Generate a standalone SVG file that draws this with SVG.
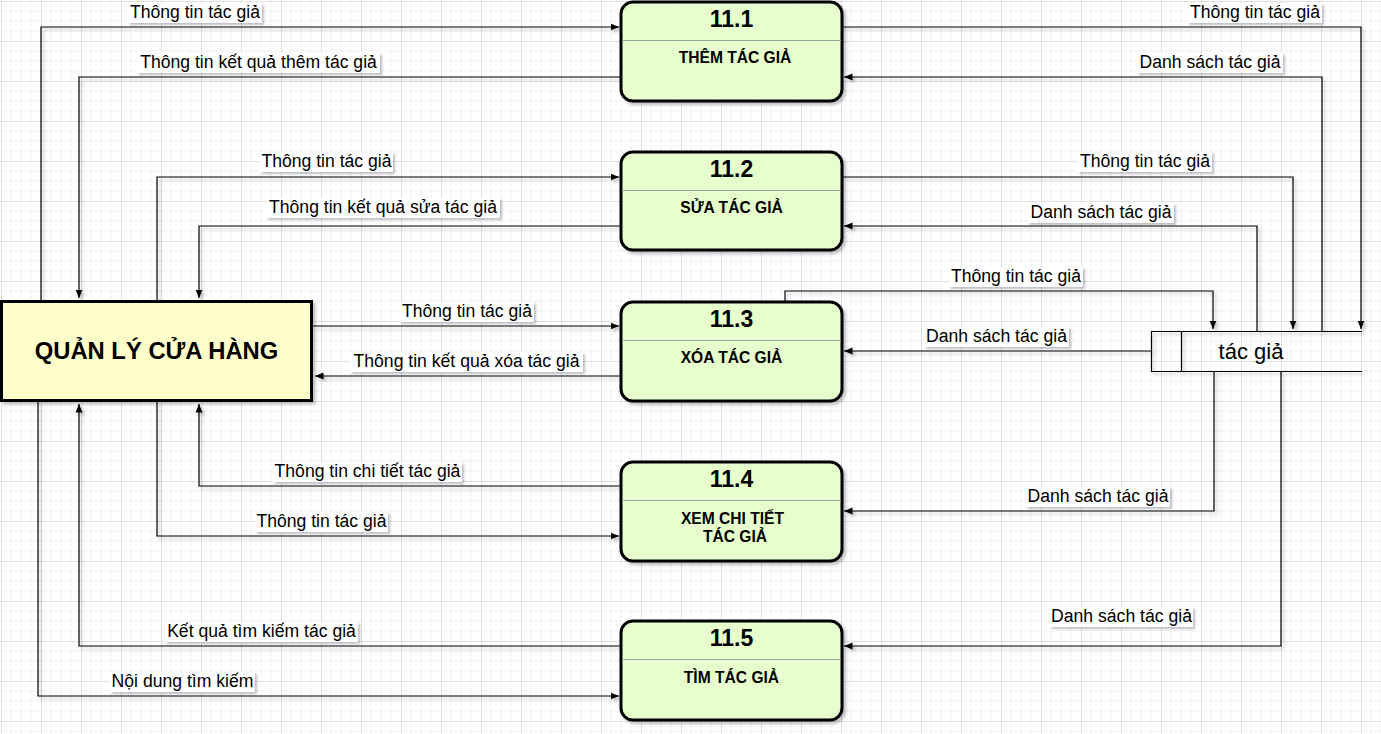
<svg xmlns="http://www.w3.org/2000/svg" width="1381" height="734" viewBox="0 0 1381 734">
<defs>
  <pattern id="grid" x="1" y="1" width="40" height="40" patternUnits="userSpaceOnUse">
    <path d="M10,0V40M20,0V40M30,0V40M0,10H40M0,20H40M0,30H40" stroke="#f1f1f1" stroke-width="1" fill="none"/>
    <path d="M0.5,0V40M0,0.5H40" stroke="#e0e0e0" stroke-width="1" fill="none"/>
  </pattern>
  <filter id="sh" x="-10%" y="-10%" width="130%" height="140%">
    <feDropShadow dx="2.5" dy="2.5" stdDeviation="1.5" flood-color="#000" flood-opacity="0.25"/>
  </filter>
  <filter id="shl" x="-10%" y="-30%" width="130%" height="180%">
    <feDropShadow dx="2" dy="2" stdDeviation="1.2" flood-color="#334" flood-opacity="0.3"/>
  </filter>
  <marker id="arr" markerUnits="userSpaceOnUse" markerWidth="9" markerHeight="8" refX="8.5" refY="4" orient="auto">
    <path d="M0,0.5 L8.5,4 L0,7.5 z" fill="#000"/>
  </marker>
  <style>
    .proc rect.box { fill:#e6ffcc; stroke:#000; stroke-width:3; }
    .proc line.div { stroke:#a0a0a0; stroke-width:1; }
    .num { font-family:"Liberation Sans", Arial, sans-serif; font-weight:bold; font-size:23px; text-anchor:middle; fill:#000; }
    .pname { font-family:"Liberation Sans", Arial, sans-serif; font-weight:bold; font-size:15.6px; text-anchor:middle; fill:#000; }
    .conn path { fill:none; stroke:#000; stroke-width:1.2; marker-end:url(#arr); }
    .lbl rect { fill:#fff; }
    .lbl text { font-family:"Liberation Sans", Arial, sans-serif; font-size:17.6px; text-anchor:middle; fill:#000; }
  </style>
</defs>
<rect width="1381" height="734" fill="#fff"/>
<rect width="1381" height="734" fill="url(#grid)"/>

<g id="connectors" class="conn">
  <g filter="url(#sh)">
    <path d="M41,300 V27 H619"/>
    <path d="M621,77 H79 V298"/>
    <path d="M842,27 H1361 V329"/>
    <path d="M1322,331 V77 H844"/>
    <path d="M157,300 V177 H619"/>
    <path d="M621,226 H199 V298"/>
    <path d="M842,177 H1293 V329"/>
    <path d="M1257,331 V226 H844"/>
    <path d="M313,326 H619"/>
    <path d="M621,376 H315"/>
    <path d="M785,302 V291 H1213 V329"/>
    <path d="M1151,351 H844"/>
    <path d="M621,486 H199 V404"/>
    <path d="M157,402 V536 H619"/>
    <path d="M1214,371 V511 H844"/>
    <path d="M621,646 H79 V404"/>
    <path d="M38,402 V696 H619"/>
    <path d="M1281,371 V646 H844"/>
  </g>
  <g class="lbl">
    <g filter="url(#shl)">
      <rect x="128" y="3" width="134" height="20"/>
      <rect x="137" y="53" width="243" height="20"/>
      <rect x="1188" y="3" width="134" height="20"/>
      <rect x="1137" y="53" width="146" height="20"/>
      <rect x="260" y="152" width="133" height="20"/>
      <rect x="266" y="198" width="234" height="20"/>
      <rect x="1078" y="152" width="134" height="20"/>
      <rect x="1028" y="203" width="146" height="20"/>
      <rect x="400" y="302" width="134" height="20"/>
      <rect x="350" y="352" width="233" height="20"/>
      <rect x="949" y="267" width="134" height="20"/>
      <rect x="924" y="327" width="145" height="20"/>
      <rect x="273" y="462" width="189" height="20"/>
      <rect x="255" y="512" width="133" height="20"/>
      <rect x="1026" y="487" width="144" height="20"/>
      <rect x="165" y="622" width="193" height="20"/>
      <rect x="110" y="672" width="145" height="20"/>
      <rect x="1050" y="607" width="143" height="20"/>
    </g>
    <text x="195" y="18">Thông tin tác giả</text>
    <text x="258.5" y="68">Thông tin kết quả thêm tác giả</text>
    <text x="1255" y="18">Thông tin tác giả</text>
    <text x="1210" y="68">Danh sách tác giả</text>
    <text x="326.5" y="167">Thông tin tác giả</text>
    <text x="383" y="213">Thông tin kết quả sửa tác giả</text>
    <text x="1145" y="167">Thông tin tác giả</text>
    <text x="1101" y="218">Danh sách tác giả</text>
    <text x="467" y="317">Thông tin tác giả</text>
    <text x="466.5" y="367">Thông tin kết quả xóa tác giả</text>
    <text x="1016" y="282">Thông tin tác giả</text>
    <text x="996.5" y="342">Danh sách tác giả</text>
    <text x="367.5" y="477">Thông tin chi tiết tác giả</text>
    <text x="321.5" y="527">Thông tin tác giả</text>
    <text x="1098" y="502">Danh sách tác giả</text>
    <text x="261.5" y="637">Kết quả tìm kiếm tác giả</text>
    <text x="182.5" y="687">Nội dung tìm kiếm</text>
    <text x="1121.5" y="622">Danh sách tác giả</text>
  </g>
</g>

<g id="qlch">
  <rect x="1.5" y="301.5" width="310" height="99" fill="#ffffcc" stroke="#000" stroke-width="3" filter="url(#sh)"/>
  <text x="156.5" y="359" font-family="Liberation Sans, Arial, sans-serif" font-weight="bold" font-size="23.8" text-anchor="middle">QUẢN LÝ CỬA HÀNG</text>
</g>

<g id="p11_1" class="proc">
  <rect class="box" x="621" y="2" width="221" height="99" rx="12" filter="url(#sh)"/>
  <line class="div" x1="622" y1="40.5" x2="841" y2="40.5"/>
  <text class="num" x="731.5" y="27">11.1</text>
  <text class="pname" x="735" y="63">THÊM TÁC GIẢ</text>
</g>
<g id="p11_2" class="proc">
  <rect class="box" x="621" y="152" width="221" height="98" rx="12" filter="url(#sh)"/>
  <line class="div" x1="622" y1="190.5" x2="841" y2="190.5"/>
  <text class="num" x="731.5" y="177">11.2</text>
  <text class="pname" x="731.5" y="213">SỬA TÁC GIẢ</text>
</g>
<g id="p11_3" class="proc">
  <rect class="box" x="621" y="302" width="221" height="99" rx="12" filter="url(#sh)"/>
  <line class="div" x1="622" y1="340.5" x2="841" y2="340.5"/>
  <text class="num" x="731.5" y="327">11.3</text>
  <text class="pname" x="731.5" y="363">XÓA TÁC GIẢ</text>
</g>
<g id="p11_4" class="proc">
  <rect class="box" x="621" y="462" width="221" height="99" rx="12" filter="url(#sh)"/>
  <line class="div" x1="622" y1="500.5" x2="841" y2="500.5"/>
  <text class="num" x="731.5" y="487">11.4</text>
  <text class="pname" x="732.5" y="524">XEM CHI TIẾT</text>
  <text class="pname" x="735" y="542">TÁC GIẢ</text>
</g>
<g id="p11_5" class="proc">
  <rect class="box" x="621" y="621" width="221" height="99" rx="12" filter="url(#sh)"/>
  <line class="div" x1="622" y1="659.5" x2="841" y2="659.5"/>
  <text class="num" x="731.5" y="646">11.5</text>
  <text class="pname" x="731.5" y="683">TÌM TÁC GIẢ</text>
</g>

<g id="store">
  <g fill="none" stroke="#000" stroke-width="1.2" filter="url(#sh)">
    <path d="M1362,331.5 H1151.5 V371.5 H1362"/>
    <path d="M1181.5,331.5 V371.5"/>
  </g>
  <text x="1251" y="359" font-family="Liberation Sans, Arial, sans-serif" font-size="22" text-anchor="middle">tác giả</text>
</g>
</svg>
